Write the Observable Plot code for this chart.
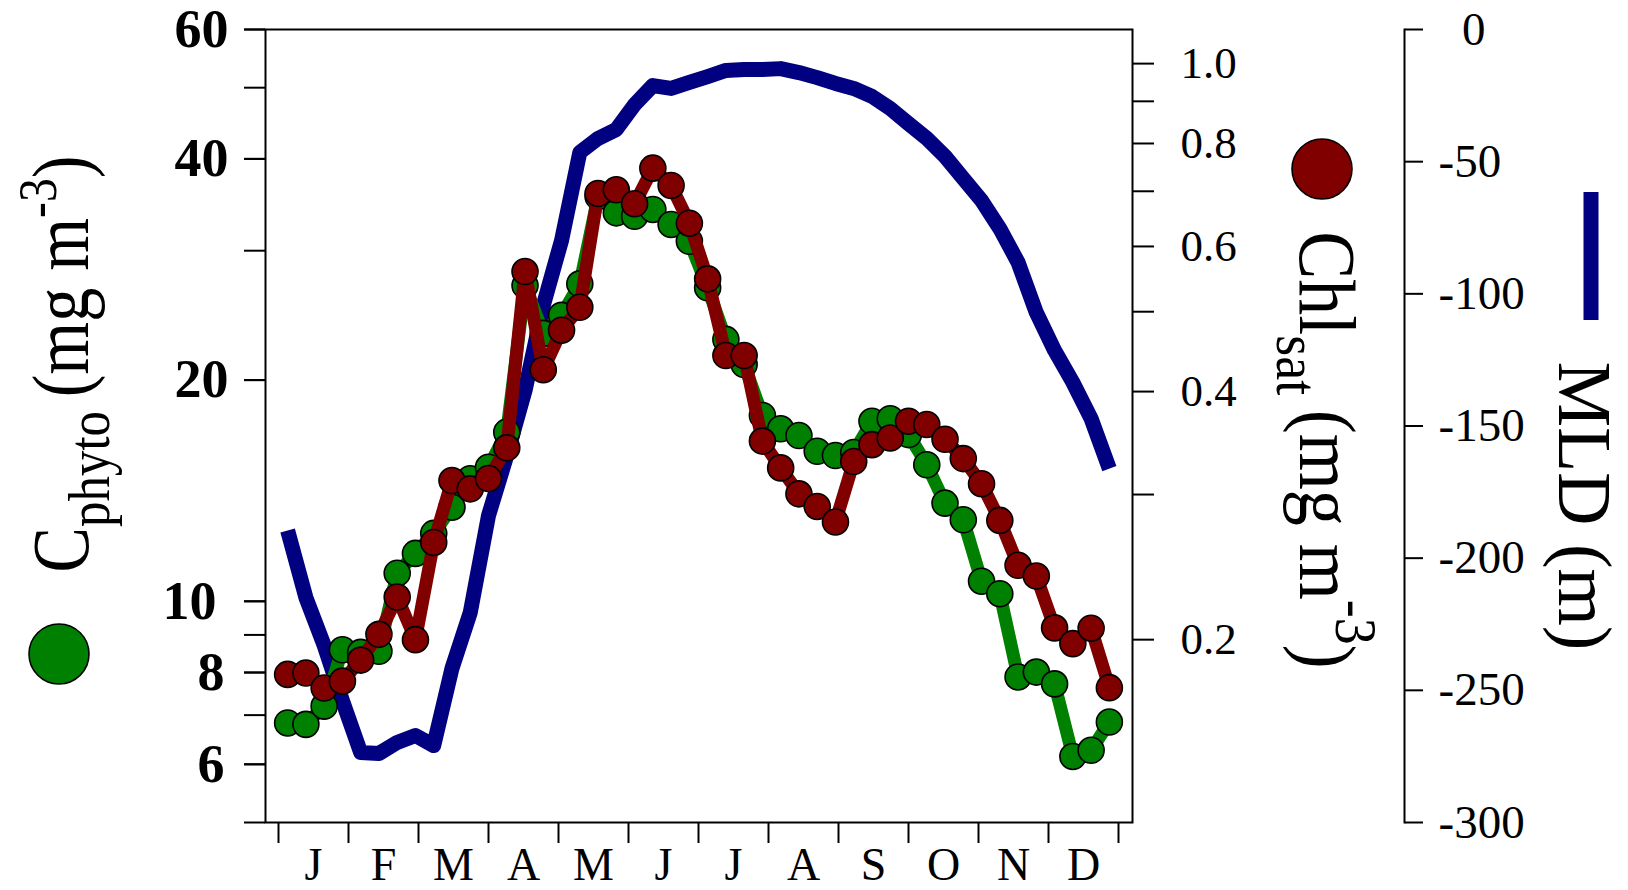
<!DOCTYPE html>
<html><head><meta charset="utf-8">
<script src="https://cdn.jsdelivr.net/npm/d3@7"></script>
<script src="https://cdn.jsdelivr.net/npm/@observablehq/plot@0.6"></script>
<style>
html,body{margin:0;padding:0;background:#fff;}
#wrap{position:relative;width:1628px;height:890px;overflow:hidden;font-family:"Liberation Serif",serif;}
#wrap > svg{position:absolute;left:0;top:0;}
</style></head><body><div id="wrap"></div>
<script>
// 8-day composite number (46 per year)
const composite = d3.range(1, 47);
// Phytoplankton carbon, mg m-3 (left, log axis)
const cphyto = [6.83,6.80,7.20,8.59,8.52,8.55,10.92,11.62,12.37,13.43,14.68,15.22,16.99,26.90,23.15,24.50,27.04,35.55,33.78,33.42,34.14,32.57,30.90,26.71,22.72,21.0,17.90,17.17,16.81,16.00,15.79,15.94,17.58,17.72,16.86,15.34,13.60,12.91,10.65,10.24,7.89,8.01,7.72,6.15,6.27,6.85];
// Satellite chlorophyll, mg m-3 (right, log axis)
const chlSat = [0.1815,0.1822,0.1747,0.1781,0.1889,0.2030,0.2253,0.2000,0.2624,0.3120,0.3048,0.3137,0.3418,0.5594,0.4252,0.4748,0.5062,0.6957,0.7029,0.6760,0.7467,0.7114,0.6403,0.5481,0.4424,0.4424,0.3483,0.3232,0.3006,0.2902,0.2778,0.3290,0.3449,0.3514,0.3682,0.3648,0.3501,0.3317,0.3092,0.2791,0.2462,0.2389,0.2067,0.1978,0.2065,0.1749];
// Mixed layer depth, m (far right axis)
const mld = [-189.5,-214.9,-233.0,-253.9,-273.5,-273.9,-269.7,-267.1,-270.9,-241.7,-220.6,-183.9,-161.2,-136.6,-104.4,-79.8,-46.5,-41.2,-37.8,-28.4,-21.2,-22.3,-20.0,-17.8,-15.5,-15.1,-15.1,-14.8,-16.3,-18.2,-20.4,-22.3,-25.3,-29.9,-35.6,-41.2,-48.0,-56.4,-64.7,-75.3,-88.1,-107.1,-121.4,-133.5,-147.2,-166.1];

const months = ["J","F","M","A","M","J","J","A","S","O","N","D"];
const cTicks = [5,6,7,8,9,10,20,30,40,50,60];
const cLabelsA = [20,40,60];
const cLabelsB = [10];
const cLabelsC = [6,8];
const chlTicks = [0.2,0.3,0.4,0.5,0.6,0.7,0.8,0.9,1.0];
const chlLabels = [0.2,0.4,0.6,0.8,1.0];
const mldTicks = [0,-50,-100,-150,-200,-250,-300];

const rows = composite.map((n, i) => ({n, c: cphyto[i], chl: chlSat[i], mld: mld[i]}));
const monthEdges = d3.range(13).map(k => 0.5 + k * 46 / 12);
const monthMids = d3.range(12).map(k => 0.5 + (k + 0.5) * 46 / 12);
const monthOf = d => months[Math.round((d - 0.5) * 12 / 46 - 0.5)];

const W = 1628, H = 890;
const base = {
  width: W, height: H,
  marginLeft: 265, marginRight: 496, marginTop: 29, marginBottom: 68,
  style: {background: "transparent", fontFamily: "Liberation Serif, serif", fontSize: "46px", color: "black", overflow: "visible"}
};
const xOpt = {domain: [0.5, 46.5], insetLeft: 13, insetRight: 14};

// Layer 1: mixed layer depth
const p1 = Plot.plot({
  ...base,
  x: {...xOpt, axis: null},
  y: {domain: [-300, 0]},
  marks: [
    Plot.line(rows, {x: "n", y: "mld", stroke: "#000080", strokeWidth: 15, strokeLinecap: "butt", strokeLinejoin: "round"}),
    Plot.frame({anchor: "right", dx: 272, stroke: "black", strokeWidth: 2}),
    Plot.axisY({anchor: "right", ticks: mldTicks, tickSize: 18, tickPadding: 16, dx: 272, strokeWidth: 2,
      tickFormat: d => d === 0 ? "\u2007" + d : String(d), label: null, fontSize: 47})
  ]
});

// Layer 2: phytoplankton carbon + frame + x axis
const leftLabels = (vals, pad) => Plot.axisY({anchor: "left", ticks: vals, tickSize: 21, tickPadding: pad,
  tickFormat: d => String(d), label: null, fontSize: 54, fontWeight: "bold", strokeWidth: 2});
const p2 = Plot.plot({
  ...base,
  x: xOpt,
  y: {type: "log", domain: [5, 60]},
  marks: [
    Plot.frame({stroke: "black", strokeWidth: 2}),
    Plot.line(rows, {x: "n", y: "c", stroke: "#008000", strokeWidth: 13}),
    Plot.dot(rows, {x: "n", y: "c", r: 13, fill: "#008000", stroke: "black", strokeWidth: 1.6}),
    Plot.axisY({anchor: "left", ticks: cTicks, tickSize: 21, strokeWidth: 2, tickFormat: () => "", label: null}),
    leftLabels(cLabelsA, 16),
    leftLabels(cLabelsB, 28),
    leftLabels(cLabelsC, 20),
    Plot.axisX({ticks: monthEdges, tickSize: 21, strokeWidth: 2, tickFormat: () => "", label: null}),
    Plot.axisX({ticks: monthMids, tickSize: 0, tickPadding: 25, tickFormat: monthOf, label: null, fontSize: 46})
  ]
});

// Layer 3: satellite chlorophyll
const p3 = Plot.plot({
  ...base,
  x: {...xOpt, axis: null},
  y: {type: "log", domain: [0.12, 1.1]},
  marks: [
    Plot.line(rows, {x: "n", y: "chl", stroke: "#800000", strokeWidth: 13}),
    Plot.dot(rows, {x: "n", y: "chl", r: 13, fill: "#800000", stroke: "black", strokeWidth: 1.6}),
    Plot.axisY({anchor: "right", ticks: chlTicks, tickSize: 21, tickPadding: 27, strokeWidth: 2,
      tickFormat: d => chlLabels.includes(d) ? d.toFixed(1) : "", label: null, fontSize: 45})
  ]
});

const wrap = document.getElementById("wrap");
[p1, p2, p3].forEach(p => wrap.appendChild(p));

// Legend / axis titles
const leg = d3.select(wrap).append("svg").attr("width", W).attr("height", H)
  .style("font-family", "Liberation Serif, serif");

leg.append("circle").attr("cx", 59).attr("cy", 654).attr("r", 30)
  .attr("fill", "#008000").attr("stroke", "black").attr("stroke-width", 1.6);
leg.append("circle").attr("cx", 1322).attr("cy", 169).attr("r", 30)
  .attr("fill", "#800000").attr("stroke", "black").attr("stroke-width", 1.6);
leg.append("line").attr("x1", 1591).attr("x2", 1591).attr("y1", 192).attr("y2", 320)
  .attr("stroke", "#000080").attr("stroke-width", 15);

function title(g, parts, fs) {
  const t = g.append("text").attr("text-anchor", "middle").attr("font-size", fs);
  let cur = 0;
  for (const [str, shift, scale] of parts) {
    const ts = t.append("tspan").text(str).attr("dy", shift - cur);
    if (scale) ts.attr("font-size", fs * scale);
    cur = shift;
  }
  return t;
}
title(leg.append("g").attr("transform", "translate(88,364) rotate(-90) scale(0.85,1)"),
  [["C", 0], ["phyto", 21, 0.75], ["\u2009(mg m", 0], ["-3", -32, 0.7], [")", 0]], 80);
title(leg.append("g").attr("transform", "translate(1300,450) rotate(90) scale(0.90,1)"),
  [["Chl", 0], ["sat", 23, 0.75], ["\u2009(mg m", 0], ["-3", -36, 0.75], [")", 0]], 80);
title(leg.append("g").attr("transform", "translate(1559,506) rotate(90) scale(0.97,1)"),
  [["MLD (m)", 0]], 76);
</script></body></html>
